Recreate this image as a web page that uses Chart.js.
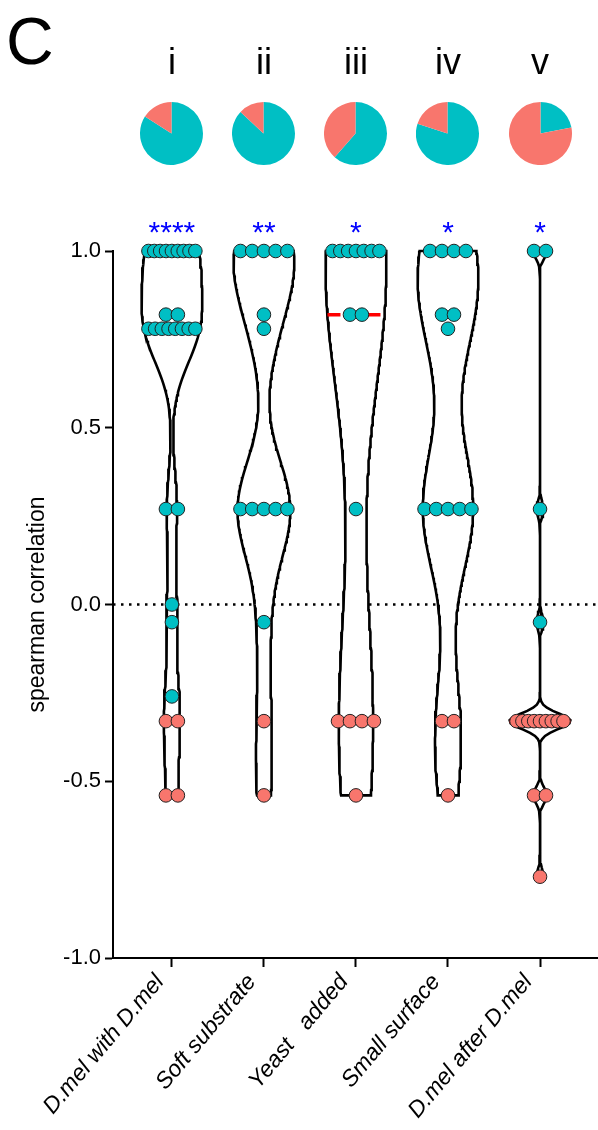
<!DOCTYPE html>
<html>
<head>
<meta charset="utf-8">
<script src="https://cdn.jsdelivr.net/npm/chart.js@4.4.1/dist/chart.umd.min.js"></script>
<style>
  body { margin: 0; background: #fff; }
  #wrap { position: relative; width: 598px; height: 1130px; }
  #main { position: absolute; left: 0; top: 0; }
  .pie { position: absolute; }
</style>
</head>
<body>
<div id="wrap">
  <canvas id="main" width="598" height="1130"></canvas>
</div>
<script>
// categories and labels
const groups = ['D.mel with D.mel', 'Soft substrate', 'Yeast   added', 'Small surface', 'D.mel after D.mel'];
const numerals = ['i', 'ii', 'iii', 'iv', 'v'];
const stars = ['****', '**', '*', '*', '*'];
const yTicks = [-1, -0.5, 0, 0.5, 1];

// spearman correlations per group (teal = positive class, salmon = negative class)
const tealValues = [
  [1,1,1,1,1,1,1,1,1, 0.82,0.82, 0.78,0.78,0.78,0.78,0.78,0.78,0.78,0.78, 0.27,0.27, 0, -0.05, -0.26],
  [1,1,1,1,1, 0.82, 0.78, 0.27,0.27,0.27,0.27,0.27, -0.05],
  [1,1,1,1,1,1,1, 0.82,0.82, 0.27],
  [1,1,1,1, 0.82,0.82, 0.78, 0.27,0.27,0.27,0.27,0.27],
  [1,1, 0.27, -0.05]
];
const salmonValues = [
  [-0.33,-0.33, -0.54,-0.54],
  [-0.33, -0.54],
  [-0.33,-0.33,-0.33,-0.33, -0.54],
  [-0.33,-0.33, -0.54],
  [-0.33,-0.33,-0.33,-0.33,-0.33,-0.33,-0.33,-0.33,-0.33, -0.54,-0.54, -0.77]
];

// pie shares (percent) shown above each violin
const pieTeal = [84, 87, 61.5, 80, 22];
const pieSalmon = [16, 13, 38.5, 20, 78];

// kernel bandwidth used for each violin
const bandwidth = [0.11, 0.14, 0.34, 0.18, 0.022];

const TEAL = '#00BFC4';
const SALMON = '#F8766D';
const violinHalf = 0.33;
const dotStep = 0.13;
const rowSpan = 0.51;

Chart.defaults.font.family = '"Liberation Sans", Arial, sans-serif';
Chart.defaults.color = '#000';

function density(values, h, y) {
  let s = 0;
  for (const v of values) {
    const u = (y - v) / h;
    s += Math.exp(-0.5 * u * u);
  }
  return s;
}

function median(values) {
  const s = values.slice().sort((a, b) => a - b);
  const m = Math.floor(s.length / 2);
  return s.length % 2 ? s[m] : (s[m - 1] + s[m]) / 2;
}

const datasets = [];
const tealDots = [];
const salmonDots = [];

groups.forEach((g, i) => {
  const c = i + 1;
  const all = tealValues[i].concat(salmonValues[i]);
  const lo = Math.min(...all), hi = Math.max(...all);
  const steps = 200;
  const ys = [];
  for (let k = 0; k <= steps; k++) ys.push(lo + (hi - lo) * k / steps);
  const dens = ys.map(y => density(all, bandwidth[i], y));
  const maxD = Math.max(...dens);
  const half = y => violinHalf * density(all, bandwidth[i], y) / maxD;

  // violin outline
  const outline = [];
  ys.forEach((y, k) => outline.push({x: c + violinHalf * dens[k] / maxD, y: y}));
  for (let k = ys.length - 1; k >= 0; k--) outline.push({x: c - violinHalf * dens[k] / maxD, y: ys[k]});
  outline.push(outline[0]);
  datasets.push({
    data: outline, showLine: true, pointRadius: 0, borderColor: '#000', borderWidth: 2.6,
    backgroundColor: '#fff', fill: 'shape', order: 3, clip: false
  });

  // median line
  const med = median(all);
  const w = half(med);
  datasets.push({
    data: [{x: c - w, y: med}, {x: c + w, y: med}], showLine: true, pointRadius: 0,
    borderColor: '#FF0000', borderWidth: 3.5, borderDash: [13, 7], order: 2, clip: false
  });

  // dots, spread sideways in rows of equal value
  const rows = new Map();
  tealValues[i].forEach(v => { const key = v.toFixed(3); if (!rows.has(key)) rows.set(key, []); rows.get(key).push('t'); });
  salmonValues[i].forEach(v => { const key = v.toFixed(3); if (!rows.has(key)) rows.set(key, []); rows.get(key).push('s'); });
  rows.forEach((cols, key) => {
    const v = parseFloat(key);
    const n = cols.length;
    const step = n > 1 ? Math.min(dotStep, rowSpan / (n - 1)) : 0;
    cols.forEach((col, j) => {
      const p = {x: c + (j - (n - 1) / 2) * step, y: v};
      (col === 't' ? tealDots : salmonDots).push(p);
    });
  });
});

datasets.push({
  data: tealDots, pointRadius: 6.8, pointBackgroundColor: TEAL, pointBorderColor: '#222',
  pointBorderWidth: 1, order: 0, clip: false
});
datasets.push({
  data: salmonDots, pointRadius: 6.8, pointBackgroundColor: SALMON, pointBorderColor: '#222',
  pointBorderWidth: 1, order: 0, clip: false
});

// dotted zero line
datasets.push({
  data: [{x: 0.36, y: 0}, {x: 5.63, y: 0}], showLine: true, pointRadius: 0,
  borderColor: '#000', borderWidth: 2.5, borderDash: [2.5, 5.5], order: 5
});

const labelsPlugin = {
  id: 'labels',
  afterDraw(chart) {
    const ctx = chart.ctx;
    const xs = chart.scales.x;
    ctx.save();
    ctx.fillStyle = '#000';
    ctx.textAlign = 'left';
    ctx.textBaseline = 'alphabetic';
    ctx.font = '66px "Liberation Sans", Arial, sans-serif';
    ctx.fillText('C', 6, 64);
    ctx.textAlign = 'center';
    numerals.forEach((t, i) => {
      ctx.font = '36px "Liberation Sans", Arial, sans-serif';
      ctx.fillStyle = '#000';
      ctx.fillText(t, xs.getPixelForValue(i + 1), 74);
    });
    stars.forEach((t, i) => {
      ctx.font = '30px "Liberation Sans", Arial, sans-serif';
      ctx.fillStyle = '#0000FF';
      ctx.fillText(t, xs.getPixelForValue(i + 1), 242);
    });
    ctx.restore();
  }
};

const chart = new Chart(document.getElementById('main'), {
  type: 'scatter',
  data: { datasets: datasets },
  options: {
    responsive: false,
    animation: false,
    events: [],
    layout: { autoPadding: false, padding: { top: 251, left: 0, right: 0, bottom: 0 } },
    plugins: { legend: { display: false }, tooltip: { enabled: false } },
    scales: {
      x: {
        type: 'linear', min: 0.36, max: 5.63,
        afterBuildTicks: s => { s.ticks = groups.map((g, i) => ({value: i + 1})); },
        ticks: {
          callback: (v, idx) => groups[idx],
          font: { size: 23, style: 'italic' }, color: '#000',
          minRotation: 50, maxRotation: 50, autoSkip: false, padding: 2, labelOffset: -12
        },
        grid: { drawOnChartArea: false, tickLength: 9, tickWidth: 2, tickColor: '#000' },
        border: { color: '#000', width: 2 },
        afterFit: s => { s.height = 172; s.paddingLeft = 0; s.paddingRight = 0; }
      },
      y: {
        min: -1, max: 1,
        afterBuildTicks: s => { s.ticks = yTicks.map(v => ({value: v})); },
        ticks: { callback: v => v.toFixed(1), font: { size: 22 }, color: '#000', padding: 4 },
        grid: { drawOnChartArea: false, tickLength: 8, tickWidth: 2, tickColor: '#000' },
        border: { color: '#000', width: 2 },
        title: { display: true, text: 'spearman correlation', font: { size: 23 }, color: '#000', padding: { top: 24, bottom: 0 } },
        afterFit: s => { s.width = 113; s.paddingTop = 0; s.paddingBottom = 0; }
      }
    }
  },
  plugins: [labelsPlugin]
});

// small pies above each group
const wrap = document.getElementById('wrap');
groups.forEach((g, i) => {
  const cv = document.createElement('canvas');
  cv.className = 'pie';
  cv.width = 63; cv.height = 63;
  const px = chart.scales.x.getPixelForValue(i + 1);
  cv.style.left = (px - 31.5) + 'px';
  cv.style.top = (133 - 31.5) + 'px';
  wrap.appendChild(cv);
  new Chart(cv, {
    type: 'pie',
    data: { datasets: [{ data: [pieTeal[i], pieSalmon[i]], backgroundColor: [TEAL, SALMON], borderWidth: 0 }] },
    options: {
      responsive: false, animation: false, events: [],
      plugins: { legend: { display: false }, tooltip: { enabled: false } }
    }
  });
});
</script>
</body>
</html>
